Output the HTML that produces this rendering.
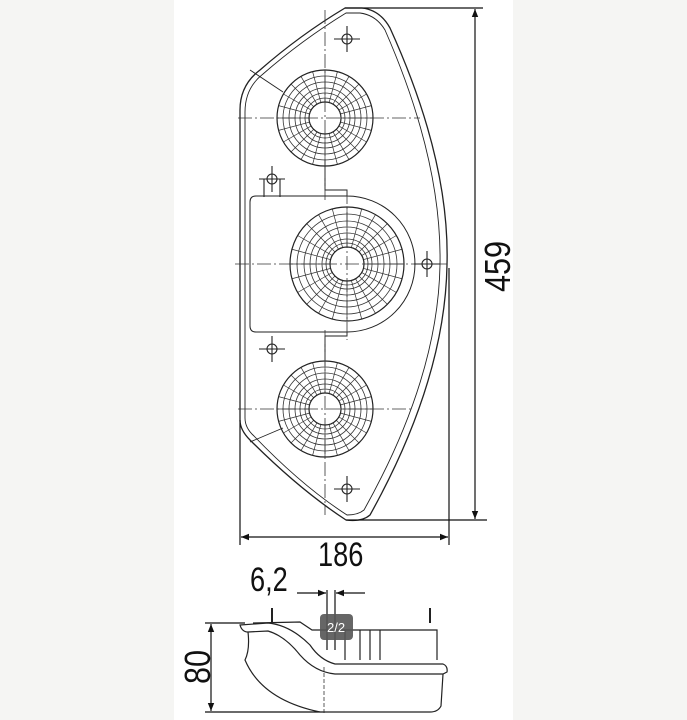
<!DOCTYPE html>
<html><head><meta charset="utf-8"><style>
html,body{margin:0;padding:0;background:#f5f5f3;}
svg{display:block;}
text{font-family:"Liberation Sans",sans-serif;fill:#111;}
</style></head><body>
<svg width="687" height="720" viewBox="0 0 687 720" xmlns="http://www.w3.org/2000/svg">
<defs>
<marker id="a" viewBox="0 0 10 10" refX="10" refY="5" markerWidth="10" markerHeight="8" orient="auto-start-reverse" markerUnits="userSpaceOnUse"><path d="M0,1 L10,5 L0,9 z" fill="#111"/></marker>
<g id="rad" stroke="#333" stroke-width="0.7">
<line x1="-48" y1="0" x2="48" y2="0" vector-effect="non-scaling-stroke"/>
<line x1="-46.4" y1="-12.4" x2="46.4" y2="12.4" vector-effect="non-scaling-stroke"/>
<line x1="-41.6" y1="-24" x2="41.6" y2="24" vector-effect="non-scaling-stroke"/>
<line x1="-33.9" y1="-33.9" x2="33.9" y2="33.9" vector-effect="non-scaling-stroke"/>
<line x1="-24" y1="-41.6" x2="24" y2="41.6" vector-effect="non-scaling-stroke"/>
<line x1="-12.4" y1="-46.4" x2="12.4" y2="46.4" vector-effect="non-scaling-stroke"/>
<line x1="0" y1="-48" x2="0" y2="48" vector-effect="non-scaling-stroke"/>
<line x1="12.4" y1="-46.4" x2="-12.4" y2="46.4" vector-effect="non-scaling-stroke"/>
<line x1="24" y1="-41.6" x2="-24" y2="41.6" vector-effect="non-scaling-stroke"/>
<line x1="33.9" y1="-33.9" x2="-33.9" y2="33.9" vector-effect="non-scaling-stroke"/>
<line x1="41.6" y1="-24" x2="-41.6" y2="24" vector-effect="non-scaling-stroke"/>
<line x1="46.4" y1="-12.4" x2="-46.4" y2="12.4" vector-effect="non-scaling-stroke"/>
</g>
<g id="lamp">
<use href="#rad"/>
<g fill="none" stroke="#333" stroke-width="0.8"><circle r="42"/><circle r="36"/><circle r="30"/><circle r="25"/><circle r="20"/></g>
<circle r="48" fill="none" stroke="#222" stroke-width="1.2"/>
<circle r="16" fill="#fff" stroke="#222" stroke-width="1.2"/>
</g>
</defs>
<rect x="174" y="0" width="339" height="720" fill="#fff"/>
<g fill="none" stroke="#222" stroke-width="1.3">
<path d="M345,8 L362,8 Q380,10 390,28 Q450,160 447,265 Q445,380 370,515 Q362,522 346,520 Q300,490 250,440 Q240,430 240,420 L240,110 Q240,85 260,70 Q300,35 345,8 z"/>
<path d="M346,13 L360,13 Q376,15 385,30 Q442,160 440,265 Q438,378 364,510 Q358,515 347,515 Q302,486 254,436 Q245,428 245,418 L245,112 Q245,88 263,74 Q302,40 346,13 z" stroke-width="0.9"/>
<path d="M325,160 L325,190 L347,190 L347,196 A68,68 0 0 1 347,332 L347,336 L325,336 L325,360" stroke-width="1"/>
<path d="M347,196 L256,196 Q250,196 250,202 L250,326 Q250,332 256,332 L347,332" stroke-width="1"/>
<line x1="250" y1="70" x2="283" y2="92" stroke-width="0.9"/>
<line x1="250" y1="442" x2="283" y2="428" stroke-width="0.9"/>
</g>
<g transform="translate(325,118)"><use href="#lamp"/></g>
<g transform="translate(325,409)"><use href="#lamp"/></g>
<g transform="translate(347,264)">
<g transform="scale(1.1875)"><use href="#rad"/></g>
<g fill="none" stroke="#333" stroke-width="0.8"><circle r="50"/><circle r="43"/><circle r="37"/><circle r="31"/><circle r="25"/><circle r="21"/></g>
<circle r="57" fill="none" stroke="#222" stroke-width="1.2"/>
<circle r="17" fill="#fff" stroke="#222" stroke-width="1.2"/>
</g>
<g stroke="#333" stroke-width="0.8" stroke-dasharray="14,3,2,3">
<line x1="325" y1="10" x2="325" y2="200"/><line x1="238" y1="118" x2="420" y2="118"/>
<line x1="325" y1="330" x2="325" y2="515"/><line x1="238" y1="409" x2="412" y2="409"/>
<line x1="235" y1="264" x2="450" y2="264"/><line x1="347" y1="190" x2="347" y2="340"/>
</g>
<g fill="none" stroke="#222" stroke-width="1.1">
<g transform="translate(347,39)"><circle r="5"/><path d="M-13,0H13M0,-13V13"/></g>
<g transform="translate(272,179)"><circle r="5"/><path d="M-13,0H13M0,-13V13M-8,0V18M8,0V18"/></g>
<g transform="translate(272,349)"><circle r="5"/><path d="M-13,0H13M0,-13V13"/></g>
<g transform="translate(427,264)"><circle r="5"/><path d="M-13,0H13M0,-13V13"/></g>
<g transform="translate(347,489)"><circle r="5"/><path d="M-13,0H13M0,-13V13"/></g>
</g>
<g stroke="#111" stroke-width="1.2" fill="none">
<line x1="345" y1="8" x2="483" y2="8"/><line x1="346" y1="520" x2="487" y2="520"/>
<line x1="475" y1="9" x2="475" y2="519" marker-start="url(#a)" marker-end="url(#a)"/>
<line x1="240" y1="420" x2="240" y2="545"/><line x1="449" y1="268" x2="449" y2="545"/>
<line x1="241" y1="537" x2="448" y2="537" marker-start="url(#a)" marker-end="url(#a)"/>
</g>
<text x="0" y="0" font-size="36" transform="translate(510,292) rotate(-90) scale(0.85,1)">459</text>
<text x="0" y="0" font-size="34" transform="translate(318,566) scale(0.8,1)">186</text>
<text x="0" y="0" font-size="34" transform="translate(250,591) scale(0.8,1)">6,2</text>
<g stroke="#111" stroke-width="1.2" fill="none">
<line x1="297" y1="593" x2="326" y2="593" marker-end="url(#a)"/>
<line x1="365" y1="593" x2="336" y2="593" marker-end="url(#a)"/>
<line x1="327" y1="590" x2="327" y2="650"/><line x1="335" y1="590" x2="335" y2="650"/>
<line x1="205" y1="623" x2="245" y2="623"/><line x1="205" y1="712" x2="325" y2="712"/>
<line x1="211" y1="624" x2="211" y2="711" marker-start="url(#a)" marker-end="url(#a)"/>
</g>
<text x="0" y="0" font-size="36" transform="translate(210,684) rotate(-90) scale(0.85,1)">80</text>
<g fill="none" stroke="#222" stroke-width="1.2">
<path d="M240,625 L268,623 Q290,625 310,645 Q320,660 335,664 L443,664 Q448,666 447,672 L443,674 L335,674 Q315,672 300,655 Q285,636 268,631 L248,632 Q242,632 240,625 z"/>
<path d="M248,632 Q250,650 245,660 Q262,700 320,712"/>
<path d="M443,674 L441,706 Q438,712 430,712 L325,712"/>
<path d="M253,623 L300,622 L312,630 L437,630 L437,660 M370,630 V660"/>
<path d="M345,630 V660 M360,630 V660 M380,630 V660"/>
<path d="M272,608 V623 M430,608 V623" stroke-width="2"/>
</g>
<line x1="324" y1="667" x2="324" y2="714" stroke="#333" stroke-width="0.8" stroke-dasharray="4,2"/>
<rect x="320" y="614" width="33" height="26" rx="4" fill="#555" opacity="0.9"/>
<text x="327" y="632" font-size="13" style="fill:#fff">2/2</text>
</svg>
</body></html>
